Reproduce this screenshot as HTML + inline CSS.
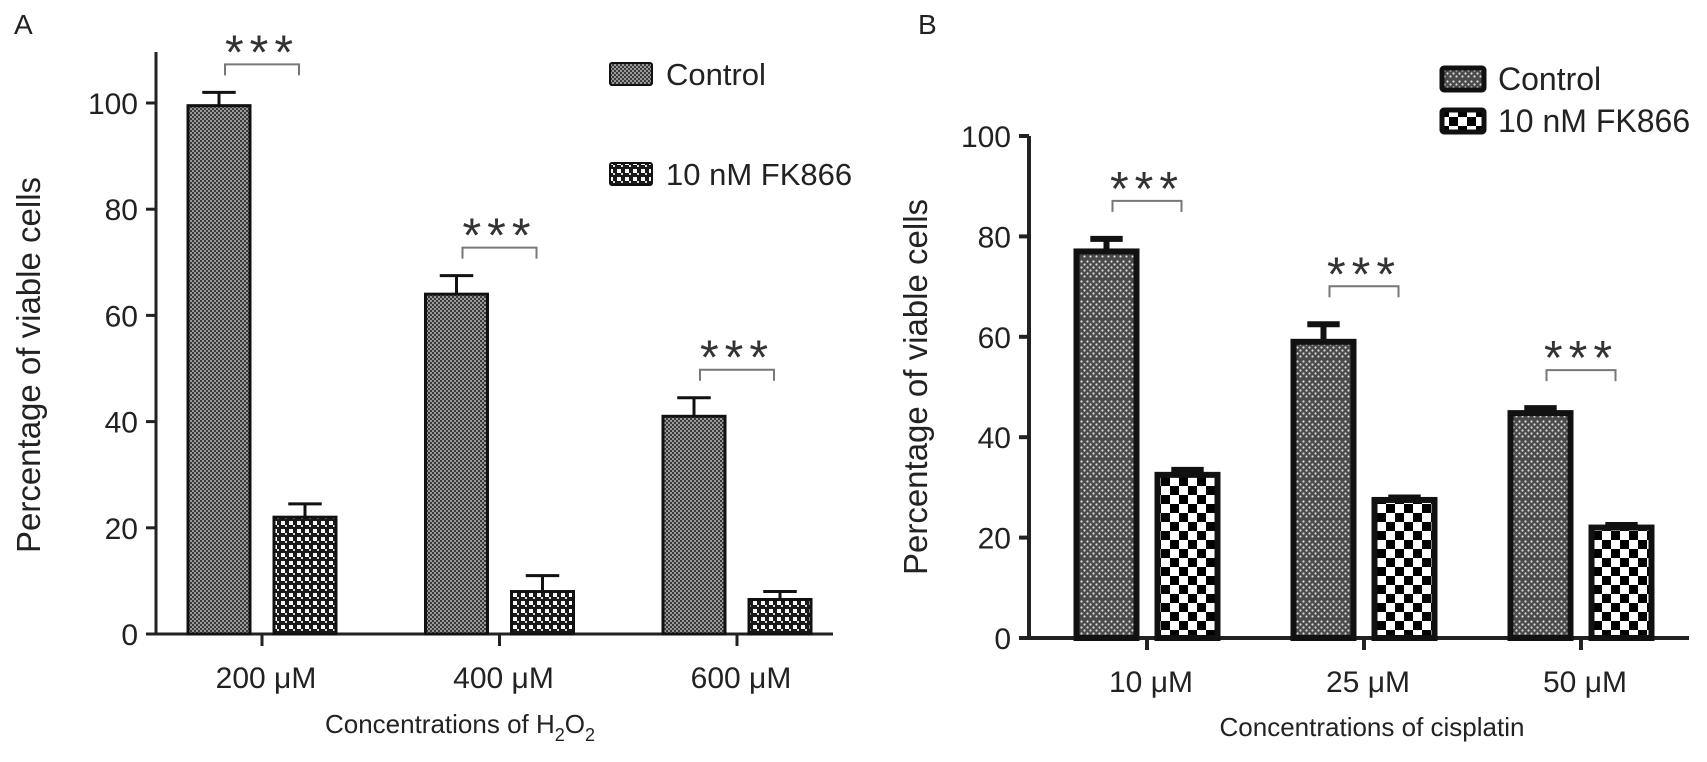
<!DOCTYPE html>
<html><head><meta charset="utf-8"><style>
body{margin:0;background:#fff;}
svg{display:block;font-family:"Liberation Sans",Arial,sans-serif;}
</style></head><body>
<svg id="chart" width="1707" height="762" viewBox="0 0 1707 762">
<defs>
<pattern id="pA1" width="4" height="4" patternUnits="userSpaceOnUse"><rect width="4" height="4" fill="#999"/><rect width="2" height="2" fill="#3a3a3a"/><rect x="2" y="2" width="2" height="2" fill="#3a3a3a"/></pattern>
<pattern id="pA2" width="8" height="8" patternUnits="userSpaceOnUse"><rect width="8" height="8" fill="#1a1a1a"/><rect x="1" y="1" width="4" height="4" fill="#fff"/><rect x="5" y="5" width="2" height="2" fill="#ddd"/></pattern>
<pattern id="pB1" width="6" height="20" patternUnits="userSpaceOnUse"><rect width="6" height="20" fill="#4a4a4a"/><circle cx="1.5" cy="1.5" r="1.1" fill="#ddd"/><circle cx="4.5" cy="4.5" r="1.1" fill="#ddd"/><circle cx="1.5" cy="7.5" r="1.1" fill="#ddd"/><circle cx="4.5" cy="10.5" r="1.1" fill="#ddd"/><circle cx="1.5" cy="13.5" r="1.1" fill="#ddd"/><circle cx="4.5" cy="16.5" r="1.1" fill="#ddd"/></pattern>
<pattern id="pB2" width="18" height="18" patternUnits="userSpaceOnUse"><rect width="18" height="18" fill="#fff"/><rect width="9" height="9" fill="#000"/><rect x="9" y="9" width="9" height="9" fill="#000"/></pattern>
</defs>
<g id="gA"></g>
<g id="gB"></g>
</svg>
<script>
const catsA = ["200 μM","400 μM","600 μM"];
const ctrlA = [99.5, 64, 41];
const ctrlErrA = [2.5, 3.5, 3.5];
const fkA = [22, 8, 6.5];
const fkErrA = [2.5, 3, 1.5];
const ticksA = [0,20,40,60,80,100];
const catsB = ["10 μM","25 μM","50 μM"];
const ctrlB = [77, 59, 44.8];
const ctrlErrB = [2.5, 3.5, 1];
const fkB = [32.5, 27.5, 22];
const fkErrB = [1, 0.5, 0.5];
const ticksB = [0,20,40,60,80,100];
const sigLabel = "***";

const NS="http://www.w3.org/2000/svg";
function mk(parent, tag, attrs, txt){const e=document.createElementNS(NS,tag);for(const k in attrs)e.setAttribute(k,attrs[k]);if(txt!==undefined)e.textContent=txt;parent.appendChild(e);return e;}

function panel(g, cfg){
  const y = v => cfg.y0 - v*(cfg.y0-cfg.y100)/100;
  const xc = i => cfg.xFirst + i*cfg.step;
  const lw = cfg.lw;
  let e=mk(g,'line',{x1:cfg.ax,y1:cfg.axTop,x2:cfg.ax,y2:cfg.y0,stroke:'#222','stroke-width':cfg.axw});
  
  e=mk(g,'line',{x1:cfg.ax-8,y1:cfg.y0,x2:cfg.axEnd,y2:cfg.y0,stroke:'#222','stroke-width':cfg.axw});
  
  if(cfg.cap){mk(g,'line',{x1:cfg.ax-10,y1:cfg.axTop,x2:cfg.ax,y2:cfg.axTop,stroke:'#222','stroke-width':cfg.axw});}
  cfg.ticks.forEach(t=>{
    mk(g,'line',{x1:cfg.ax-10,y1:y(t),x2:cfg.ax,y2:y(t),stroke:'#222','stroke-width':cfg.axw});
    const l=mk(g,'text',{x:cfg.ax-18,y:y(t)+11,'text-anchor':'end','font-size':30,fill:'#222'},String(t));
    
  });
  cfg.cats.forEach((c,i)=>{
    mk(g,'line',{x1:xc(i),y1:cfg.y0,x2:xc(i),y2:cfg.y0+12,stroke:'#222','stroke-width':cfg.axw});
    const l=mk(g,'text',{x:xc(i)+4,y:cfg.y0+54,'text-anchor':'middle','font-size':30,fill:'#222'},c);
    
    const series=[[cfg.ctrl,cfg.ctrlErr,cfg.p1,-1],[cfg.fk,cfg.fkErr,cfg.p2,1]];
    series.forEach(([vals,errs,pat,side],si)=>{
      const x0 = side<0 ? xc(i)-cfg.gap/2-cfg.bw : xc(i)+cfg.gap/2;
      const cx=x0+cfg.bw/2;
      const top=y(vals[i]+errs[i]);
      let eb=mk(g,'line',{x1:cx,y1:y(vals[i]),x2:cx,y2:top,stroke:'#111','stroke-width':lw});
      
      mk(g,'line',{x1:cx-cfg.bw*0.27,y1:top,x2:cx+cfg.bw*0.27,y2:top,stroke:'#111','stroke-width':lw});
      const b=mk(g,'rect',{x:x0,y:y(vals[i]),width:cfg.bw,height:cfg.y0-y(vals[i]),fill:'url(#'+pat+')',stroke:'#111','stroke-width':lw});
      
      
    });
    const l1 = xc(i)-cfg.gap/2-cfg.bw/2, r1 = xc(i)+cfg.gap/2+cfg.bw/2;
    const by = y(cfg.ctrl[i]+cfg.ctrlErr[i]) - cfg.brOff;
    const br=mk(g,'path',{d:`M${l1+6},${by+11} V${by} H${r1-6} V${by+11}`,fill:'none',stroke:'#777','stroke-width':2});
    
    const st=mk(g,'text',{x:(l1+r1)/2,y:by+4,'text-anchor':'middle','font-size':48,fill:'#333','letter-spacing':6},sigLabel);
    
  });
  [[cfg.p1,'Control'],[cfg.p2,'10 nM FK866']].forEach(([p,t],k)=>{
    const ly=cfg.legY+k*cfg.legDy;
    const s=mk(g,'rect',{x:cfg.legX,y:ly,width:42,height:22,fill:'url(#'+p+')',stroke:'#111','stroke-width':cfg.legW,rx:2});
    
    const tx=mk(g,'text',{x:cfg.legX+56,y:ly+22,'font-size':cfg.legF,fill:'#222'},t);
    
  });
}

const gA=document.getElementById('gA'), gB=document.getElementById('gB');
panel(gA,{y0:634,y100:103,ax:156,axTop:52,axEnd:833,axw:3,ticks:ticksA,cats:catsA,xFirst:262,step:237.5,bw:62,gap:24,
  ctrl:ctrlA,ctrlErr:ctrlErrA,fk:fkA,fkErr:fkErrA,p1:'pA1',p2:'pA2',lw:3,brOff:28,legX:610,legY:63,legDy:100,legW:2,legF:31});
panel(gB,{y0:638,y100:136,ax:1029,axTop:136,axEnd:1689,axw:4,cap:true,ticks:ticksB,cats:catsB,xFirst:1147,step:217,bw:60,gap:21,
  ctrl:ctrlB,ctrlErr:ctrlErrB,fk:fkB,fkErr:fkErrB,p1:'pB1',p2:'pB2',lw:6,brOff:38,legX:1442,legY:68,legDy:42,legW:5,legF:32});

let t;
t=mk(gA,'text',{x:14,y:34,'font-size':28,fill:'#222'},'A');
t=mk(gB,'text',{x:918,y:34,'font-size':28,fill:'#222'},'B');
t=mk(gA,'text',{x:0,y:0,'font-size':33,fill:'#222','text-anchor':'middle',transform:'translate(40,365) rotate(-90)'},'Percentage of viable cells');

t=mk(gB,'text',{x:0,y:0,'font-size':33,fill:'#222','text-anchor':'middle',transform:'translate(927,387) rotate(-90)'},'Percentage of viable cells');

t=mk(gA,'text',{x:460,y:733,'font-size':26,fill:'#222','text-anchor':'middle'});

t.innerHTML='Concentrations of H<tspan font-size="18" dy="8">2</tspan><tspan dy="-8">O</tspan><tspan font-size="18" dy="8">2</tspan>';
t=mk(gB,'text',{x:1372,y:736,'font-size':26,fill:'#222','text-anchor':'middle'},'Concentrations of cisplatin');

</script>
</body></html>
